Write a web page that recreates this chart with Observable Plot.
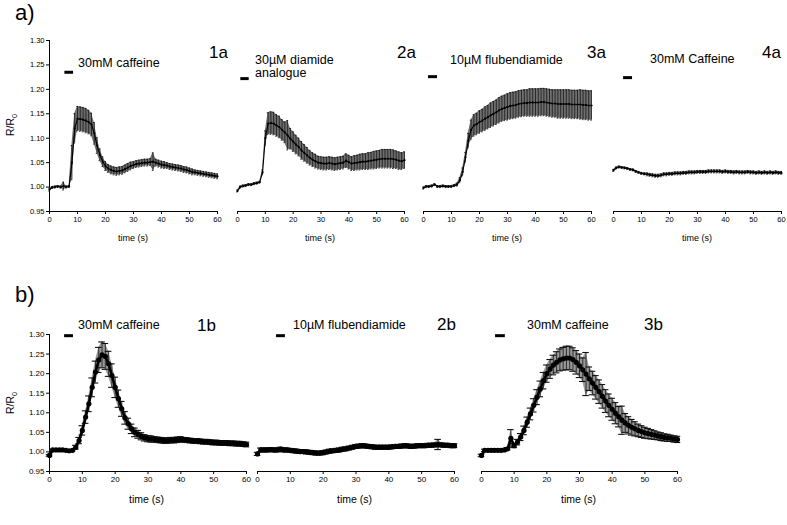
<!DOCTYPE html>
<html><head><meta charset="utf-8">
<script src="https://cdn.jsdelivr.net/npm/d3@7"></script>
<script src="https://cdn.jsdelivr.net/npm/@observablehq/plot@0.6"></script>
<style>
body{margin:0;background:#fff;font-family:"Liberation Sans",Arial,sans-serif;}
#root{position:relative;width:787px;height:525px;overflow:hidden;background:#fff;}
#root svg{position:absolute;}
.lbl{position:absolute;white-space:nowrap;color:#000;line-height:1;}
</style></head><body><div id="root"></div>
<script>
// time points (s)
const time = [0,1,2,3,4,5,6,7,8,9,10,11,12,13,14,15,16,17,18,19,20,21,22,23,24,25,26,27,28,29,30,31,32,33,34,35,36,37,38,39,40,41,42,43,44,45,46,47,48,49,50,51,52,53,54,55,56,57,58,59,60];
const xTicks = [0,10,20,30,40,50,60];
const yTicks = [0.95,1.00,1.05,1.10,1.15,1.20,1.25,1.30];

// panel 1a: 30mM caffeine
const m1a = [0.995,0.999,1.000,1.001,1.000,1.002,1.000,1.001,1.050,1.120,1.140,1.139,1.138,1.136,1.133,1.128,1.110,1.085,1.066,1.052,1.043,1.038,1.035,1.033,1.032,1.033,1.034,1.037,1.040,1.043,1.045,1.047,1.048,1.049,1.050,1.050,1.051,1.052,1.050,1.048,1.046,1.045,1.044,1.042,1.041,1.040,1.039,1.038,1.036,1.035,1.033,1.031,1.030,1.029,1.028,1.027,1.026,1.025,1.024,1.023,1.022];
const s1a = [0.003,0.002,0.002,0.002,0.002,0.008,0.002,0.002,0.035,0.030,0.025,0.025,0.025,0.025,0.024,0.023,0.022,0.016,0.012,0.010,0.009,0.008,0.008,0.008,0.008,0.008,0.008,0.008,0.008,0.008,0.007,0.007,0.007,0.007,0.007,0.007,0.007,0.018,0.007,0.007,0.007,0.007,0.006,0.006,0.006,0.006,0.006,0.006,0.006,0.006,0.006,0.006,0.005,0.005,0.005,0.005,0.005,0.005,0.005,0.005,0.005];
// panel 2a: 30µM diamide analogue
const m2a = [0.992,1.000,1.002,1.003,1.005,1.005,1.007,1.008,1.010,1.030,1.100,1.130,1.131,1.130,1.126,1.123,1.117,1.112,1.106,1.099,1.093,1.087,1.082,1.075,1.070,1.065,1.060,1.056,1.053,1.050,1.049,1.048,1.048,1.049,1.048,1.047,1.048,1.049,1.050,1.054,1.051,1.048,1.049,1.050,1.051,1.052,1.052,1.053,1.054,1.055,1.056,1.057,1.058,1.058,1.058,1.058,1.057,1.056,1.054,1.053,1.055];
const s2a = [0.002,0.002,0.002,0.002,0.002,0.002,0.002,0.002,0.002,0.005,0.015,0.022,0.023,0.023,0.022,0.022,0.021,0.021,0.030,0.021,0.020,0.019,0.018,0.018,0.017,0.016,0.015,0.014,0.014,0.013,0.013,0.013,0.013,0.013,0.013,0.013,0.013,0.013,0.013,0.014,0.014,0.014,0.015,0.015,0.016,0.016,0.016,0.017,0.017,0.018,0.018,0.018,0.019,0.019,0.019,0.019,0.019,0.018,0.018,0.017,0.017];
// panel 3a: 10µM flubendiamide
const m3a = [0.998,1.001,1.001,1.002,1.005,1.001,1.001,1.002,1.001,1.001,1.001,1.003,1.005,1.014,1.031,1.061,1.095,1.117,1.126,1.129,1.133,1.136,1.140,1.143,1.147,1.150,1.153,1.157,1.160,1.162,1.164,1.166,1.167,1.168,1.170,1.171,1.172,1.172,1.173,1.173,1.173,1.173,1.174,1.174,1.173,1.172,1.171,1.171,1.170,1.170,1.170,1.170,1.170,1.169,1.169,1.169,1.169,1.168,1.168,1.167,1.167];
const s3a = [0.002,0.002,0.002,0.002,0.002,0.002,0.002,0.002,0.002,0.002,0.002,0.002,0.003,0.005,0.008,0.010,0.015,0.020,0.022,0.022,0.023,0.023,0.024,0.024,0.025,0.025,0.025,0.026,0.026,0.026,0.027,0.027,0.027,0.027,0.027,0.027,0.027,0.027,0.028,0.028,0.028,0.028,0.028,0.028,0.028,0.028,0.028,0.028,0.029,0.029,0.029,0.029,0.029,0.029,0.029,0.029,0.030,0.030,0.030,0.030,0.030];
// panel 4a: 30mM Caffeine
const m4a = [1.034,1.039,1.041,1.040,1.039,1.038,1.036,1.035,1.032,1.030,1.028,1.027,1.026,1.025,1.024,1.023,1.023,1.024,1.026,1.026,1.027,1.027,1.028,1.028,1.028,1.029,1.029,1.030,1.030,1.030,1.031,1.031,1.031,1.031,1.032,1.032,1.032,1.032,1.032,1.031,1.032,1.031,1.031,1.030,1.031,1.030,1.030,1.030,1.031,1.030,1.030,1.029,1.030,1.029,1.030,1.029,1.030,1.029,1.030,1.029,1.029];
const s4a = [0.002,0.002,0.002,0.002,0.002,0.002,0.002,0.002,0.002,0.002,0.002,0.002,0.003,0.003,0.003,0.003,0.003,0.003,0.003,0.003,0.003,0.003,0.003,0.003,0.003,0.003,0.003,0.003,0.003,0.003,0.003,0.003,0.003,0.003,0.003,0.003,0.003,0.003,0.003,0.003,0.003,0.003,0.003,0.003,0.003,0.003,0.003,0.003,0.003,0.003,0.003,0.003,0.003,0.003,0.003,0.003,0.003,0.003,0.003,0.003,0.003];
// panel 1b: 30mM caffeine
const m1b = [0.991,1.005,1.005,1.005,1.005,1.004,1.003,1.004,1.012,1.029,1.055,1.089,1.123,1.165,1.204,1.235,1.248,1.244,1.225,1.195,1.165,1.136,1.110,1.087,1.072,1.059,1.050,1.045,1.040,1.036,1.034,1.033,1.032,1.031,1.030,1.029,1.029,1.030,1.030,1.031,1.032,1.031,1.030,1.029,1.028,1.028,1.027,1.026,1.026,1.025,1.024,1.024,1.023,1.023,1.023,1.022,1.022,1.021,1.021,1.020,1.019];
const s1b = [0.002,0.002,0.002,0.002,0.002,0.002,0.002,0.002,0.005,0.008,0.012,0.016,0.020,0.024,0.028,0.032,0.033,0.033,0.032,0.030,0.026,0.022,0.019,0.016,0.014,0.012,0.011,0.010,0.009,0.008,0.008,0.008,0.007,0.007,0.007,0.007,0.007,0.007,0.007,0.007,0.007,0.006,0.006,0.006,0.006,0.006,0.006,0.006,0.006,0.006,0.006,0.006,0.006,0.006,0.006,0.006,0.006,0.006,0.006,0.006,0.006];
// panel 2b: 10µM flubendiamide
const m2b = [0.995,1.005,1.005,1.005,1.006,1.005,1.005,1.007,1.005,1.005,1.004,1.003,1.002,1.001,1.001,1.000,0.999,0.998,0.997,0.997,0.998,1.000,1.002,1.003,1.004,1.005,1.007,1.008,1.010,1.012,1.014,1.015,1.016,1.015,1.014,1.013,1.012,1.012,1.012,1.012,1.012,1.013,1.014,1.014,1.015,1.016,1.015,1.014,1.015,1.016,1.016,1.016,1.017,1.017,1.018,1.019,1.018,1.017,1.017,1.016,1.016];
const s2b = [0.004,0.005,0.005,0.005,0.005,0.005,0.005,0.005,0.005,0.005,0.005,0.005,0.005,0.005,0.005,0.005,0.005,0.005,0.005,0.005,0.005,0.005,0.005,0.005,0.005,0.005,0.005,0.005,0.005,0.005,0.005,0.005,0.005,0.005,0.005,0.005,0.005,0.005,0.005,0.005,0.005,0.005,0.005,0.005,0.005,0.005,0.005,0.005,0.005,0.005,0.005,0.005,0.005,0.005,0.005,0.013,0.005,0.005,0.005,0.005,0.005];
// panel 3b: 30mM caffeine
const m3b = [0.991,1.004,1.004,1.004,1.004,1.004,1.004,1.005,1.008,1.035,1.016,1.025,1.038,1.055,1.076,1.097,1.119,1.140,1.161,1.182,1.200,1.212,1.222,1.229,1.235,1.238,1.240,1.240,1.236,1.229,1.220,1.210,1.199,1.187,1.176,1.165,1.154,1.142,1.130,1.119,1.109,1.099,1.090,1.081,1.074,1.068,1.063,1.059,1.055,1.052,1.049,1.047,1.045,1.043,1.041,1.039,1.037,1.036,1.035,1.033,1.032];
const s3b = [0.003,0.003,0.003,0.003,0.003,0.003,0.003,0.003,0.003,0.022,0.005,0.007,0.009,0.011,0.013,0.015,0.017,0.019,0.020,0.021,0.022,0.024,0.025,0.027,0.028,0.029,0.030,0.030,0.030,0.030,0.030,0.030,0.055,0.030,0.030,0.030,0.030,0.030,0.029,0.029,0.028,0.027,0.026,0.036,0.024,0.022,0.020,0.018,0.016,0.015,0.014,0.013,0.012,0.011,0.010,0.010,0.009,0.009,0.008,0.008,0.008];

// drug application windows (s)
const appStart = [5.5, 1.2, 1.8, 3.6, 4.6, 5.8, 4.3];
const appEnd   = [8.6, 4.2, 5.0, 6.8, 7.3, 8.5, 7.3];

const FONT = '"Liberation Sans", Arial, sans-serif';
const root = document.getElementById("root");

function panel(cfg) {
  const data = time.map((t, i) => ({t, m: cfg.m[i], s: cfg.s[i]}));
  const b = cfg.kind === "b";
  const cap = b ? 1.0 : 0.3;
  const width = cfg.mL + cfg.plotW + 5;
  const height = cfg.mT + cfg.plotH + 40;
  const chart = Plot.plot({
    width, height,
    marginLeft: cfg.mL, marginRight: 5, marginTop: cfg.mT, marginBottom: 40,
    style: {fontFamily: FONT, fontSize: b ? "8px" : "7.5px", background: "transparent", overflow: "visible"},
    x: {domain: [0, 60], ticks: xTicks, tickSize: 3, tickPadding: 2, label: null, line: true},
    y: cfg.yAxis
      ? {domain: [0.95, 1.30], ticks: yTicks, tickFormat: ".2f", tickSize: 3, tickPadding: 2, label: null, line: true}
      : {domain: [0.95, 1.30], axis: null},
    marks: [
      Plot.areaY(data, {x: "t", y1: d => d.m - d.s, y2: d => d.m + d.s, fill: b ? "#999" : "#6e6e6e"}),
      Plot.ruleX(data, {x: "t", y1: d => d.m - d.s, y2: d => d.m + d.s, stroke: "#222", strokeWidth: 0.9}),
      Plot.ruleY(data, {y: d => d.m + d.s, x1: d => d.t - cap, x2: d => d.t + cap, stroke: "#111", strokeWidth: b ? 1.1 : 0.8}),
      Plot.ruleY(data, {y: d => d.m - d.s, x1: d => d.t - cap, x2: d => d.t + cap, stroke: "#111", strokeWidth: b ? 1.1 : 0.8}),
      Plot.line(data, {x: "t", y: "m", stroke: "#000", strokeWidth: b ? 2.6 : 1.1}),
      Plot.dot(data, {x: "t", y: "m", r: b ? 2.6 : 1.1, fill: "#000", stroke: null})
      ,
      Plot.ruleY([{s: appStart[cfg.idx], e: appEnd[cfg.idx]}], {y: () => cfg.appY, x1: "s", x2: "e", stroke: "#000", strokeWidth: 3})
    ]
  });
  chart.style.left = cfg.left + "px";
  chart.style.top = cfg.top + "px";
  root.appendChild(chart);
}

const A = {mT: 10, plotH: 171, top: 30, kind: "a"};
panel({...A, idx: 0, m: m1a, s: s1a, left: 0, mL: 49, plotW: 168, yAxis: true, appY: 1.235});
panel({...A, idx: 1, m: m2a, s: s2a, left: 230, mL: 7, plotW: 167, appY: 1.222});
panel({...A, idx: 2, m: m3a, s: s3a, left: 416, mL: 7, plotW: 168, appY: 1.226});
panel({...A, idx: 3, m: m4a, s: s4a, left: 606, mL: 7, plotW: 168, appY: 1.224});
const B = {mT: 14, plotH: 137, top: 320, kind: "b"};
panel({...B, idx: 4, m: m1b, s: s1b, left: 0, mL: 49, plotW: 197, yAxis: true, appY: 1.297});
panel({...B, idx: 5, m: m2b, s: s2b, left: 250, mL: 7, plotW: 197, appY: 1.297});
panel({...B, idx: 6, m: m3b, s: s3b, left: 474, mL: 7, plotW: 196, appY: 1.297});

function label(text, x, y, size, extra) {
  const d = document.createElement("div");
  d.className = "lbl";
  d.innerHTML = text;
  d.style.left = x + "px";
  d.style.top = y + "px";
  d.style.fontSize = size + "px";
  if (extra) Object.assign(d.style, extra);
  root.appendChild(d);
}
label("a)", 15, 2, 22);
label("b)", 15, 284, 22);
label("1a", 209, 44, 17);
label("2a", 397, 44, 17);
label("3a", 587, 44, 17);
label("4a", 762, 44, 17);
label("30mM caffeine", 78, 57, 12.5);
label("30µM diamide", 255, 54, 12.5);
label("analogue", 255, 67, 12.5);
label("10µM flubendiamide", 450, 54, 12.5);
label("30mM Caffeine", 650, 53, 12.5);
label("1b", 197, 317, 17);
label("2b", 437, 316, 17);
label("3b", 644, 316, 17);
label("30mM caffeine", 78, 319, 12.5);
label("10µM flubendiamide", 293, 319, 12.5);
label("30mM caffeine", 527, 319, 12.5);
// axis titles
[133, 320, 507, 697].forEach(cx => label("time (s)", cx - 15, 234, 9));
[147, 355, 579].forEach(cx => label("time (s)", cx - 18, 494, 10.5));
label("R/R<sub style='font-size:70%'>0</sub>", 12, 125, 10.5, {transform: "translate(-50%,-50%) rotate(-90deg)"});
label("R/R<sub style='font-size:70%'>0</sub>", 12, 403, 10.5, {transform: "translate(-50%,-50%) rotate(-90deg)"});
</script></body></html>
